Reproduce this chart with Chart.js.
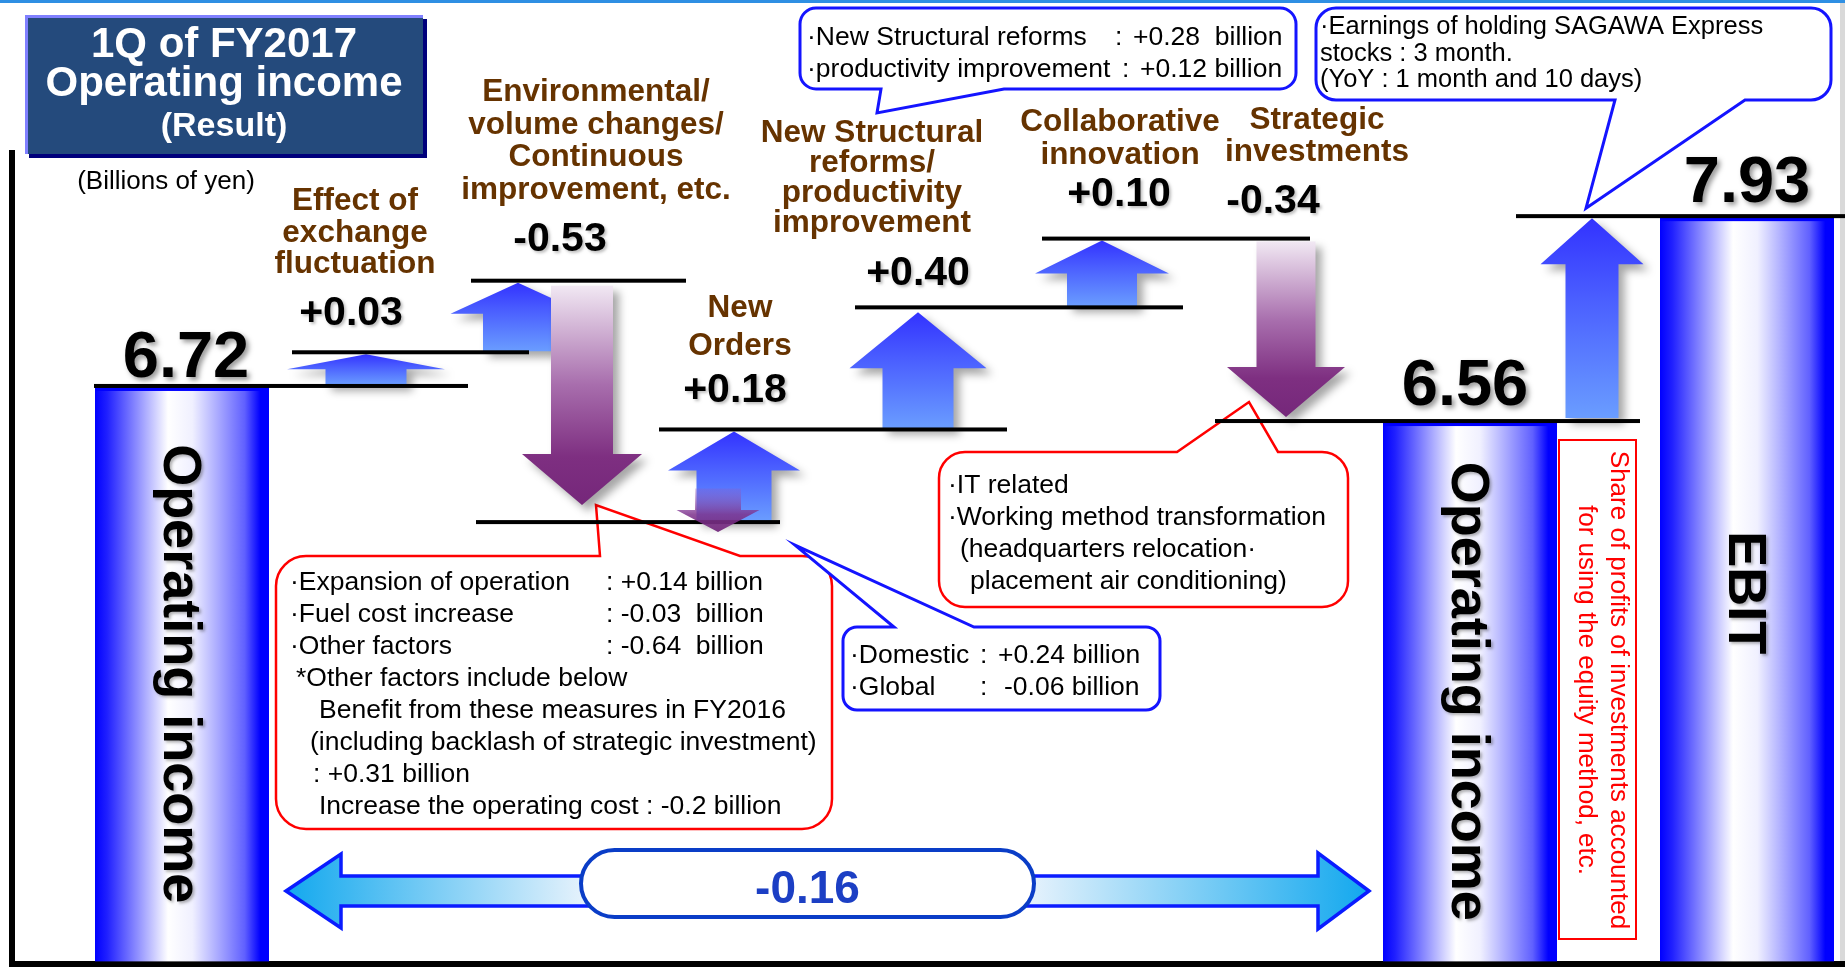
<!DOCTYPE html>
<html>
<head>
<meta charset="utf-8">
<title>1Q of FY2017 Operating income</title>
<script src="https://cdn.jsdelivr.net/npm/chart.js@4.4.1/dist/chart.umd.min.js"></script>
<style>
  html, body { margin: 0; padding: 0; background: #fff; overflow: hidden; }
  #waterfall { display: block; }
</style>
</head>
<body>
<canvas id="waterfall" width="1845" height="967"></canvas>
<script>
// ---- values ----
const steps = ['Operating income', 'Effect of exchange fluctuation',
  'Environmental/ volume changes/ Continuous improvement, etc.', 'New Orders',
  'New Structural reforms/ productivity improvement', 'Collaborative innovation',
  'Strategic investments', 'Operating income', 'EBIT'];
const printed = [6.72, 0.03, -0.53, 0.18, 0.40, 0.10, -0.34, 6.56, 7.93];
const isTotal = [true, false, false, false, false, false, false, true, true];

// the slide is not drawn to scale: these are the levels where each step sits on it
const barBase = 2.62;
const totals   = [6.72, null, null, null, null, null, null, 6.47, 7.93];
const riseFrom = [null, 6.72, 6.96, 5.75, 6.41, 7.28, null, null, 6.47];
const riseTo   = [null, 6.96, 7.47, 6.41, 7.28, 7.77, null, null, 7.93];
const fallFrom = [null, null, 7.47, null, null, null, 7.77, null, null];
const fallTo   = [null, null, 5.75, null, null, null, 6.47, null, null];
const dipFrom  = [null, null, null, 5.99, null, null, null, null, null];   // Global -0.06 inside New Orders
const dipTo    = [null, null, null, 5.68, null, null, null, null, null];

const stepLines = [[], ['Effect of', 'exchange', 'fluctuation'],
  ['Environmental/', 'volume changes/', 'Continuous', 'improvement, etc.'], ['New', 'Orders'],
  ['New Structural', 'reforms/', 'productivity', 'improvement'], ['Collaborative', 'innovation'],
  ['Strategic', 'investments'], [], []];

const structuralNote = [['\u00b7New Structural reforms', ':', '+0.28  billion'],
  ['\u00b7productivity improvement', ':', '+0.12 billion']];
const earningsNote = ['\u00b7Earnings of holding SAGAWA Express', 'stocks : 3 month.', '(YoY : 1 month and 10 days)'];
const envNote = [['\u00b7Expansion of operation', ': +0.14 billion'], ['\u00b7Fuel cost increase', ': -0.03  billion'],
  ['\u00b7Other factors', ': -0.64  billion'], ['*Other factors include below', ''],
  ['Benefit from these measures in FY2016', ''], ['(including backlash of strategic investment)', ''],
  [': +0.31 billion', ''], ['Increase the operating cost : -0.2 billion', '']];
const ordersNote = [['\u00b7Domestic', ':', '+0.24 billion'], ['\u00b7Global', ':', '-0.06 billion']];
const strategicNote = ['\u00b7IT related', '\u00b7Working method transformation', '(headquarters relocation\u00b7', 'placement air conditioning)'];
const equityNote = ['Share of profits of investments accounted', 'for using the equity method, etc.'];

const stepText = printed.map((v, i) => isTotal[i] ? v.toFixed(2) : (v > 0 ? '+' : '') + v.toFixed(2));

// ---- look ----
const FONT = '"Liberation Sans", Arial, Helvetica, sans-serif';
const BROWN = '#663300';
const barWidth = 174;
const barLook = {0: {dx: 0}, 7: {dx: 0}, 8: {dx: 93}};
const arrowLook = {
  rise: {
    1: {hw: 158, sw: 81, hl: 15},
    2: {hw: 135, sw: 70, hl: 31, dx: -32},
    3: {hw: 132, sw: 75, hl: 39},
    4: {hw: 137, sw: 71, hl: 56, tip: 5},
    5: {hw: 134, sw: 70, hl: 33},
    8: {hw: 103, sw: 53, hl: 46, dx: -62, base: -3}
  },
  fall: {
    2: {hw: 120, sw: 62, hl: 51, dx: 32, top: 5, tip: -17},
    6: {hw: 118, sw: 59, hl: 50, top: 3, tip: -4}
  },
  dip: {3: {hw: 83, sw: 46, hl: 22, dx: -16}}
};
const valueLook = {0: {dx: 4, dy: -9, big: true}, 1: {dx: -15, dy: -27}, 2: {dx: 10, dy: -30},
  3: {dx: 1, dy: -27}, 4: {dx: 0, dy: -22}, 5: {dx: 17, dy: -33}, 6: {dx: -13, dy: -26},
  7: {dx: -5, dy: -16, big: true}, 8: {dx: 93, dy: -14, big: true}};
const labelLook = {1: {dx: -11, dy: -52, lh: 31.5}, 2: {dx: 46, dy: -52, lh: 32.5}, 3: {dx: 6, dy: -47, lh: 38},
  4: {dx: -46, dy: -53, lh: 30}, 5: {dx: 18, dy: -42, lh: 33}, 6: {dx: 31, dy: -52, lh: 32}};
// horizontal step lines: from the left of one mark to the right of the next
const stepLinks = [
  {from: ['total', 0], to: ['rise', 1], l: -88, r: 102},
  {from: ['rise', 1], to: ['rise', 2], l: -74, r: 11},
  {from: ['rise', 2], to: ['fall', 2], l: -47, r: 104},
  {from: ['fall', 2], to: ['rise', 3], l: -106, r: 46},
  {from: ['rise', 3], to: ['rise', 4], l: -75, r: 89},
  {from: ['rise', 4], to: ['rise', 5], l: -63, r: 81},
  {from: ['rise', 5], to: ['fall', 6], l: -60, r: 24},
  {from: ['fall', 6], to: ['rise', 8], l: -71, r: 48},
  {from: ['rise', 8], to: ['total', 8], l: -76, r: 100}
];

const kinds = {total: 0, rise: 1, fall: 2, dip: 3};

function markX(chart, kind, i) {
  const el = chart.getDatasetMeta(kinds[kind]).data[i];
  const look = kind === 'total' ? barLook[i] : arrowLook[kind][i];
  return el.x + ((look && look.dx) || 0);
}

function endLevel(kind, i) {
  return kind === 'total' ? totals[i] : kind === 'rise' ? riseTo[i] : fallTo[i];
}

function arrowPath(ctx, x, yFrom, yTo, s) {
  const neck = yTo < yFrom ? yTo + s.hl : yTo - s.hl;
  ctx.beginPath();
  ctx.moveTo(x - s.sw / 2, yFrom);
  ctx.lineTo(x - s.sw / 2, neck);
  ctx.lineTo(x - s.hw / 2, neck);
  ctx.lineTo(x, yTo);
  ctx.lineTo(x + s.hw / 2, neck);
  ctx.lineTo(x + s.sw / 2, neck);
  ctx.lineTo(x + s.sw / 2, yFrom);
  ctx.closePath();
}

function drawArrow(ctx, x, yFrom, yTo, s, paint, shadow) {
  ctx.save();
  arrowPath(ctx, x, yFrom, yTo, s);
  if (shadow) {
    ctx.shadowColor = 'rgba(0,0,0,0.35)';
    ctx.shadowBlur = 8;
    ctx.shadowOffsetX = 6;
    ctx.shadowOffsetY = 6;
  }
  ctx.fillStyle = paint;
  ctx.fill();
  ctx.restore();
}

function blueFill(ctx, yTip, yBase) {
  const g = ctx.createLinearGradient(0, yTip, 0, yBase);
  g.addColorStop(0, '#3232ff');
  g.addColorStop(0.4, '#4a5eff');
  g.addColorStop(1, '#6a9dff');
  return g;
}

function purpleFill(ctx, yTop, yTip) {
  const g = ctx.createLinearGradient(0, yTop, 0, yTip);
  g.addColorStop(0, '#f1e8f3');
  g.addColorStop(0.45, '#a86ead');
  g.addColorStop(0.78, '#7e2f81');
  g.addColorStop(1, '#75277a');
  return g;
}

function calloutPath(ctx, x0, y0, x1, y1, r, side, pa, pb, tx, ty) {
  ctx.beginPath();
  ctx.moveTo(x0 + r, y0);
  if (side === 'top') { ctx.lineTo(pa, y0); ctx.lineTo(tx, ty); ctx.lineTo(pb, y0); }
  ctx.lineTo(x1 - r, y0);
  ctx.arcTo(x1, y0, x1, y0 + r, r);
  ctx.lineTo(x1, y1 - r);
  ctx.arcTo(x1, y1, x1 - r, y1, r);
  if (side === 'bottom') { ctx.lineTo(pb, y1); ctx.lineTo(tx, ty); ctx.lineTo(pa, y1); }
  ctx.lineTo(x0 + r, y1);
  ctx.arcTo(x0, y1, x0, y1 - r, r);
  ctx.lineTo(x0, y0 + r);
  ctx.arcTo(x0, y0, x0 + r, y0, r);
  ctx.closePath();
}

function callout(ctx, box, color, width, tip) {
  ctx.save();
  calloutPath(ctx, box[0], box[1], box[2], box[3], box[4], tip.side, tip.a, tip.b, tip.x, tip.y);
  ctx.fillStyle = '#fff';
  ctx.fill();
  ctx.lineWidth = width;
  ctx.strokeStyle = color;
  ctx.lineJoin = 'miter';
  ctx.stroke();
  ctx.restore();
}

function text(ctx, str, x, y, font, color, align) {
  ctx.font = font;
  ctx.fillStyle = color;
  ctx.textAlign = align || 'left';
  ctx.fillText(str, x, y);
}

function vtext(ctx, str, x, y, font, color) {
  ctx.save();
  ctx.translate(x, y);
  ctx.rotate(Math.PI / 2);
  ctx.font = font;
  ctx.fillStyle = color;
  ctx.textAlign = 'center';
  ctx.textBaseline = 'middle';
  ctx.fillText(str, 0, 0);
  ctx.restore();
}

const slideArt = {
  id: 'slideArt',
  beforeDatasetsDraw(chart) {
    const ctx = chart.ctx;
    ctx.save();
    ctx.fillStyle = '#fff';
    ctx.fillRect(0, 0, 1845, 967);
    ctx.fillStyle = '#2f8fe3';
    ctx.fillRect(0, 0, 1845, 3);
    ctx.fillStyle = '#d9d9d9';
    ctx.fillRect(1840, 3, 5, 958);
    ctx.fillStyle = '#000';
    ctx.fillRect(9, 150, 6, 817);
    ctx.fillRect(9, 961, 1836, 6);

    // title box
    ctx.fillStyle = '#00007b';
    ctx.fillRect(29, 19, 398, 139);
    ctx.fillStyle = '#244a7c';
    ctx.fillRect(25, 15, 398, 139);
    ctx.strokeStyle = '#8080ff';
    ctx.lineWidth = 3;
    ctx.beginPath();
    ctx.moveTo(26.5, 154);
    ctx.lineTo(26.5, 16.5);
    ctx.lineTo(423, 16.5);
    ctx.stroke();
    text(ctx, '1Q of FY2017', 224, 57, `bold 42px ${FONT}`, '#fff', 'center');
    text(ctx, 'Operating income', 224, 96, `bold 42px ${FONT}`, '#fff', 'center');
    text(ctx, '(Result)', 224, 136, `bold 34px ${FONT}`, '#fff', 'center');
    text(ctx, '(Billions of yen)', 166, 189, `26px ${FONT}`, '#000', 'center');
    ctx.restore();
  },
  afterDatasetsDraw(chart) {
    const ctx = chart.ctx;
    const y = v => chart.scales.y.getPixelForValue(v);
    const catX = i => chart.scales.x.getPixelForValue(i);
    ctx.save();

    // total bars
    totals.forEach((v, i) => {
      if (v === null) return;
      const x = markX(chart, 'total', i), top = y(v), bottom = y(barBase), w = barWidth;
      const g = ctx.createLinearGradient(x - w / 2, 0, x + w / 2, 0);
      g.addColorStop(0, '#0000ff');
      g.addColorStop(0.07, '#2020ff');
      g.addColorStop(0.42, '#ffffff');
      g.addColorStop(0.56, '#f0f0ff');
      g.addColorStop(0.86, '#6060ff');
      g.addColorStop(0.95, '#0000ff');
      g.addColorStop(1, '#0000ff');
      ctx.fillStyle = g;
      ctx.fillRect(x - w / 2, top, w, bottom - top);
      ctx.fillStyle = '#0000ff';
      ctx.fillRect(x - w / 2, top, w, 5);
    });

    // callouts
    const envX = markX(chart, 'fall', 2), ordX = markX(chart, 'rise', 3);
    const strX = markX(chart, 'fall', 6), eqX = markX(chart, 'rise', 8);
    callout(ctx, [800, 8, 1296, 89, 16], '#1414ff', 3,
      {side: 'bottom', a: 881, b: 1004, x: catX(4) - 41, y: 113});
    callout(ctx, [1316, 8, 1831, 100, 20], '#1414ff', 3,
      {side: 'bottom', a: 1615, b: 1745, x: eqX - 6, y: y(7.93) - 8});
    callout(ctx, [276, 556, 832, 829, 30], '#ff0000', 2.5,
      {side: 'top', a: 600, b: 740, x: envX + 14, y: y(fallTo[2]) - 17});
    callout(ctx, [843, 627, 1160, 710, 14], '#1414ff', 3,
      {side: 'top', a: 894, b: 974, x: ordX + 61, y: y(riseFrom[3]) + 23});
    callout(ctx, [939, 452, 1348, 607, 26], '#ff0000', 2.5,
      {side: 'top', a: 1177, b: 1278, x: strX - 37, y: y(fallTo[6]) - 19});

    const note = `26.5px ${FONT}`;
    structuralNote.forEach((r, k) => {
      const by = 45 + k * 32;
      text(ctx, r[0], 807, by, note, '#000');
      text(ctx, r[1], k ? 1122 : 1115, by, note, '#000');
      text(ctx, r[2], k ? 1140 : 1133, by, note, '#000');
    });
    earningsNote.forEach((t, k) => text(ctx, t, 1320, 34 + k * 26.5, `25.5px ${FONT}`, '#000'));
    const envIndent = [0, 0, 0, 6, 29, 20, 23, 29];
    envNote.forEach((r, k) => {
      const by = 590 + k * 32;
      text(ctx, r[0], 290 + envIndent[k], by, note, '#000');
      if (r[1]) text(ctx, r[1], 606, by, note, '#000');
    });
    ordersNote.forEach((r, k) => {
      const by = 663 + k * 32;
      text(ctx, r[0], 850, by, note, '#000');
      text(ctx, r[1], 980, by, note, '#000');
      text(ctx, r[2], k ? 1004 : 998, by, note, '#000');
    });
    const strIndent = [0, 0, 12, 22];
    strategicNote.forEach((t, k) => text(ctx, t, 948 + strIndent[k], 493 + k * 32, note, '#000'));

    // rising arrows
    riseFrom.forEach((v, i) => {
      if (v === null) return;
      const s = arrowLook.rise[i];
      const x = markX(chart, 'rise', i);
      const y0 = y(v) + (s.base !== undefined ? s.base : -1);
      const y1 = y(riseTo[i]) + (s.tip !== undefined ? s.tip : 2);
      drawArrow(ctx, x, y0, y1, s, blueFill(ctx, y1, y0), true);
    });
    // falling arrows
    fallFrom.forEach((v, i) => {
      if (v === null) return;
      const s = arrowLook.fall[i];
      const x = markX(chart, 'fall', i);
      const y0 = y(v) + (s.top !== undefined ? s.top : 4);
      const y1 = y(fallTo[i]) + (s.tip !== undefined ? s.tip : -10);
      drawArrow(ctx, x, y0, y1, s, purpleFill(ctx, y0, y1), true);
    });

    // step lines
    ctx.fillStyle = '#000';
    stepLinks.forEach(k => {
      const ly = y(endLevel(k.from[0], k.from[1]));
      const x0 = markX(chart, k.from[0], k.from[1]) + k.l;
      const x1 = markX(chart, k.to[0], k.to[1]) + k.r;
      ctx.fillRect(x0, ly - 2, x1 - x0, 4);
    });

    // Global dip inside New Orders
    dipFrom.forEach((v, i) => {
      if (v === null) return;
      const s = arrowLook.dip[i];
      const x = markX(chart, 'dip', i);
      const y0 = y(v), y1 = y(dipTo[i]);
      const g = ctx.createLinearGradient(0, y0, 0, y1);
      g.addColorStop(0, 'rgba(150,90,190,0.25)');
      g.addColorStop(0.6, 'rgba(125,50,140,0.85)');
      g.addColorStop(1, 'rgba(115,40,125,0.95)');
      drawArrow(ctx, x, y0, y1, s, g, false);
    });

    // value labels and step names
    stepText.forEach((t, i) => {
      const vl = valueLook[i];
      const levels = [totals[i], riseFrom[i], riseTo[i], fallFrom[i], fallTo[i]].filter(v => v !== null);
      const top = y(Math.max(...levels));
      const bx = catX(i) + vl.dx, by = top + vl.dy;
      ctx.save();
      ctx.shadowColor = vl.big ? 'rgba(0,0,0,0.4)' : 'rgba(0,0,0,0.25)';
      ctx.shadowBlur = vl.big ? 5 : 3;
      ctx.shadowOffsetX = vl.big ? 3 : 2;
      ctx.shadowOffsetY = vl.big ? 3 : 2;
      text(ctx, t, bx, by, `bold ${vl.big ? 65 : 41}px ${FONT}`, '#000', 'center');
      ctx.restore();
      const ll = labelLook[i];
      if (!ll) return;
      const lines = stepLines[i], n = lines.length;
      lines.forEach((ln, k) => {
        text(ctx, ln, catX(i) + ll.dx, by + ll.dy - (n - 1 - k) * ll.lh, `bold 31.5px ${FONT}`, BROWN, 'center');
      });
    });

    // names written down the total bars
    ctx.save();
    ctx.shadowColor = 'rgba(0,0,0,0.3)';
    ctx.shadowBlur = 3;
    ctx.shadowOffsetX = 2;
    ctx.shadowOffsetY = 2;
    totals.forEach((v, i) => {
      if (v === null) return;
      const x = markX(chart, 'total', i);
      const mid = (y(v) + y(barBase)) / 2 + (i === 8 ? 4 : 0);
      vtext(ctx, steps[i], x - 3, mid, `bold 54px ${FONT}`, '#000');
    });
    ctx.restore();

    // equity-method note
    ctx.strokeStyle = '#ff0000';
    ctx.lineWidth = 2;
    ctx.strokeRect(eqX - 33, 440, 77, 499);
    vtext(ctx, equityNote[0], eqX + 26, 690, `26px ${FONT}`, '#ff0000');
    vtext(ctx, equityNote[1], eqX - 6, 690, `26px ${FONT}`, '#ff0000');

    // operating income change across the year
    const xl = markX(chart, 'total', 0) + 104, xr = markX(chart, 'total', 7) - 101, yc = 891;
    const pillW = 453, pillH = 67, pillX = (xl + xr) / 2 - 20 - pillW / 2, pillY = yc - 41;
    const lg = ctx.createLinearGradient(xl, 0, pillX, 0);
    lg.addColorStop(0, '#12a8ee');
    lg.addColorStop(1, '#e3f1fc');
    const rg = ctx.createLinearGradient(pillX + pillW, 0, xr, 0);
    rg.addColorStop(0, '#e3f1fc');
    rg.addColorStop(1, '#12a8ee');
    ctx.lineWidth = 3.5;
    ctx.strokeStyle = '#0a1cff';
    ctx.lineJoin = 'miter';
    ctx.beginPath();
    ctx.moveTo(xl, yc);
    ctx.lineTo(xl + 55, yc - 37);
    ctx.lineTo(xl + 55, yc - 15);
    ctx.lineTo(pillX + 20, yc - 15);
    ctx.lineTo(pillX + 20, yc + 15);
    ctx.lineTo(xl + 55, yc + 15);
    ctx.lineTo(xl + 55, yc + 37);
    ctx.closePath();
    ctx.fillStyle = lg;
    ctx.fill();
    ctx.stroke();
    ctx.beginPath();
    ctx.moveTo(xr, yc);
    ctx.lineTo(xr - 51, yc - 38);
    ctx.lineTo(xr - 51, yc - 15);
    ctx.lineTo(pillX + pillW - 20, yc - 15);
    ctx.lineTo(pillX + pillW - 20, yc + 15);
    ctx.lineTo(xr - 51, yc + 15);
    ctx.lineTo(xr - 51, yc + 38);
    ctx.closePath();
    ctx.fillStyle = rg;
    ctx.fill();
    ctx.stroke();
    ctx.beginPath();
    ctx.roundRect(pillX, pillY, pillW, pillH, pillH / 2);
    ctx.fillStyle = '#fff';
    ctx.fill();
    ctx.lineWidth = 4;
    ctx.strokeStyle = '#0a3dc7';
    ctx.stroke();
    text(ctx, (printed[7] - printed[0]).toFixed(2), pillX + pillW / 2, yc + 12, `bold 46px ${FONT}`, '#1c3fc4', 'center');

    ctx.restore();
  }
};

// marks are painted by slideArt from these (invisible) bar elements
const hidden = {grouped: false, backgroundColor: 'rgba(0,0,0,0)', borderColor: 'rgba(0,0,0,0)', borderWidth: 0};

new Chart(document.getElementById('waterfall'), {
  type: 'bar',
  data: {
    labels: steps,
    datasets: [
      {label: 'Total', data: totals.map(v => v === null ? null : [barBase, v]), ...hidden},
      {label: 'Increase', data: riseFrom.map((v, i) => v === null ? null : [v, riseTo[i]]), ...hidden},
      {label: 'Decrease', data: fallFrom.map((v, i) => v === null ? null : [v, fallTo[i]]), ...hidden},
      {label: 'Global', data: dipFrom.map((v, i) => v === null ? null : [v, dipTo[i]]), ...hidden}
    ]
  },
  options: {
    responsive: false,
    animation: false,
    events: [],
    devicePixelRatio: 1,
    layout: {padding: {left: 90, right: 99, top: 0, bottom: 0}},
    scales: {
      x: {display: false},
      y: {display: false, bounds: 'data', min: 2.58, max: 9.47}
    },
    plugins: {legend: {display: false}, tooltip: {enabled: false}, colors: {enabled: false}}
  },
  plugins: [slideArt]
});
</script>
</body>
</html>
